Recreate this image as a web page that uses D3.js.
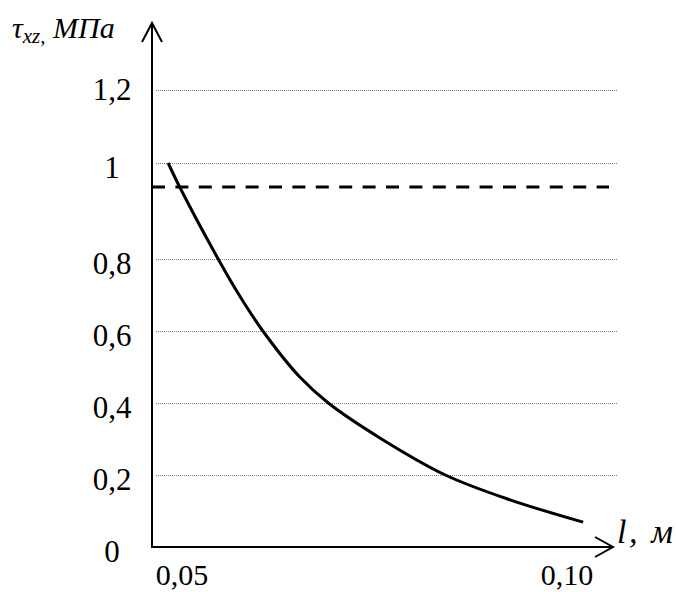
<!DOCTYPE html>
<html>
<head>
<meta charset="utf-8">
<script src="https://cdn.jsdelivr.net/npm/d3@7"></script>
<style>
	body { margin: 0; background: #fff; }
	svg text { font-family: "Liberation Serif", "Times New Roman", serif; fill: #000; }
</style>
</head>
<body>
<div id="chart"></div>
<script>
//data
var lengths = [0.0482, 0.0497, 0.0547, 0.0575, 0.0605, 0.0653, 0.0690, 0.0757, 0.0842, 0.0926, 0.1021], //l, m
	stress = [1.0, 0.95, 0.8, 0.697, 0.6, 0.472, 0.4, 0.303, 0.2, 0.131, 0.069], //tau xz, MPa
	yTicks = [0, 0.2, 0.4, 0.6, 0.8, 1, 1.2],
	yTickLabels = ["0", "0,2", "0,4", "0,6", "0,8", "1", "1,2"],
	xTicks = [0.05, 0.10],
	xTickLabels = ["0,05", "0,10"],
	limitValue = [0.95]; //dashed level

var width = 676,
	height = 592,
	originX = 152,
	originY = 547;

var svg = d3.select("#chart")
	.append("svg")
		.attr("width", width)
		.attr("height", height);

//scales (the original is hand drawn, the 1 - 1,2 part of the y axis is stretched)
var x = d3.scaleLinear()
	.domain([0.05, 0.10])
	.range([182, 567]);

var y = d3.scaleLinear()
	.domain([0, 0.8, 1, 1.2])
	.range([originY, 259, 163, 90]);

//dotted grid lines
svg.selectAll(".grid")
	.data(yTicks.filter(function(d){ return d > 0; }))
	.enter()
	.append("line")
		.attr("class", "grid")
		.attr("x1", originX + 4)
		.attr("x2", 617)
		.attr("y1", function(d){ return Math.round(y(d)) + 0.5; })
		.attr("y2", function(d){ return Math.round(y(d)) + 0.5; })
		.style("stroke", "#7a7a7a")
		.style("stroke-width", 1)
		.style("stroke-dasharray", "1,1");

//dashed limit line
svg.selectAll(".limit")
	.data(limitValue)
	.enter()
	.append("line")
		.attr("class", "limit")
		.attr("x1", originX)
		.attr("x2", 609)
		.attr("y1", function(d){ return y(d); })
		.attr("y2", function(d){ return y(d); })
		.style("stroke", "#000")
		.style("stroke-width", 3)
		.style("stroke-dasharray", "13,10.4");

//curve
var line = d3.line()
	.x(function(d, i){ return x(lengths[i]); })
	.y(function(d){ return y(d); })
	.curve(d3.curveCatmullRom.alpha(0.5));

svg.append("path")
	.datum(stress)
	.attr("d", line)
	.style("fill", "none")
	.style("stroke", "#000")
	.style("stroke-width", 3);

//axes with arrows
var axes = svg.append("g")
	.style("stroke", "#000")
	.style("stroke-width", 2)
	.style("fill", "none");

axes.append("line")
	.attr("x1", originX).attr("y1", originY + 1)
	.attr("x2", originX).attr("y2", 24);
axes.append("path")
	.attr("d", "M" + (originX - 10) + ",42L" + originX + ",23L" + (originX + 10) + ",42");

axes.append("line")
	.attr("x1", originX - 1).attr("y1", originY)
	.attr("x2", 612).attr("y2", originY);
axes.append("path")
	.attr("d", "M595," + (originY - 10) + "L613," + originY + "L595," + (originY + 10));

//y tick labels
svg.selectAll(".ylabel")
	.data(yTicks)
	.enter()
	.append("text")
		.attr("class", "ylabel")
		.attr("x", 112)
		.attr("y", function(d){ return y(d) + (d === 1.2 ? 10 : 15); })
		.style("font-size", "31px")
		.style("text-anchor", "middle")
		.text(function(d, i){ return yTickLabels[i]; });

//x tick labels
svg.selectAll(".xlabel")
	.data(xTicks)
	.enter()
	.append("text")
		.attr("class", "xlabel")
		.attr("x", function(d){ return x(d); })
		.attr("y", 585)
		.style("font-size", "30px")
		.style("text-anchor", "middle")
		.text(function(d, i){ return xTickLabels[i]; });

//axis titles
var yTitle = svg.append("text")
	.attr("x", 12)
	.attr("y", 38)
	.style("font-size", "30px")
	.style("font-style", "italic");
yTitle.append("tspan").text("τ");
yTitle.append("tspan").attr("dy", 5).style("font-size", "21px").text("xz,");
yTitle.append("tspan").attr("dy", -5).text(" МПа");

svg.append("text")
	.attr("x", 617)
	.attr("y", 543)
	.attr("textLength", 56)
	.attr("lengthAdjust", "spacing")
	.style("font-size", "34px")
	.style("font-style", "italic")
	.text("l, м");
</script>
</body>
</html>
